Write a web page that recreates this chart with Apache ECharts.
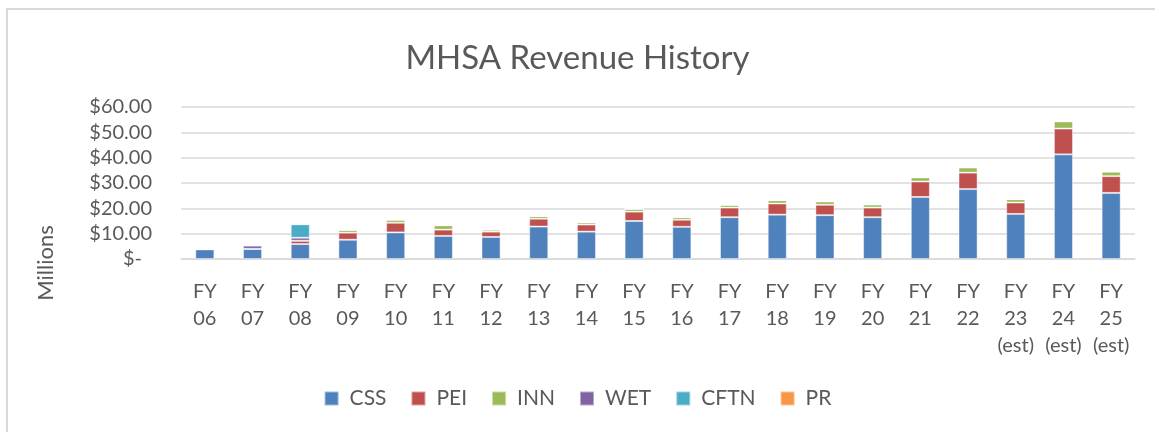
<!DOCTYPE html>
<html>
<head>
<meta charset="utf-8">
<title>MHSA Revenue History</title>
<script src="https://cdn.jsdelivr.net/npm/echarts@6/dist/echarts.min.js"></script>
<style>
    html, body { margin: 0; padding: 0; background: #fff; }
    #chart { width: 1155px; height: 432px; }
</style>
</head>
<body>
<div id="chart"></div>
<script>
// values in $ millions
var categories = ['FY\n06', 'FY\n07', 'FY\n08', 'FY\n09', 'FY\n10', 'FY\n11', 'FY\n12', 'FY\n13', 'FY\n14', 'FY\n15',
    'FY\n16', 'FY\n17', 'FY\n18', 'FY\n19', 'FY\n20', 'FY\n21', 'FY\n22', 'FY\n23\n(est)', 'FY\n24\n(est)', 'FY\n25\n(est)'];
var css  = [3.8, 4.0, 5.9, 7.6, 10.5, 9.1, 8.7, 12.8, 10.8, 15.0, 12.7, 16.5, 17.5, 17.3, 16.5, 24.5, 27.6, 17.8, 41.3, 26.1];
var pei  = [0, 0, 1.3, 2.8, 3.8, 2.5, 2.1, 3.1, 2.8, 3.7, 2.8, 3.8, 4.4, 4.1, 3.8, 6.1, 6.5, 4.5, 10.2, 6.6];
var inn  = [0, 0, 0, 1.1, 1.2, 1.7, 0.8, 1.0, 0.8, 1.1, 1.0, 1.1, 1.3, 1.3, 1.2, 1.6, 2.0, 1.3, 2.8, 1.8];
var wet  = [0, 1.3, 1.2, 0, 0, 0, 0, 0, 0, 0, 0, 0, 0, 0, 0, 0, 0, 0, 0, 0];
var cftn = [0, 0, 5.3, 0, 0, 0, 0, 0, 0, 0, 0, 0, 0, 0, 0, 0, 0, 0, 0, 0];
var pr   = [0, 0, 0, 0, 0, 0, 0, 0, 0, 0, 0, 0, 0, 0, 0, 0, 0, 0, 0, 0];
var yTicks = [0, 10, 20, 30, 40, 50, 60];

(function () {
    'use strict';

    var font = 'Lato, "Open Sans", sans-serif';
    var textColor = '#595959';
    var lineColor = '#d9d9d9';

    var seriesDefs = [
        { name: 'CSS', data: css, color: '#4f81bd' },
        { name: 'PEI', data: pei, color: '#c0504d' },
        { name: 'INN', data: inn, color: '#9bbb59' },
        { name: 'WET', data: wet, color: '#8064a2' },
        { name: 'CFTN', data: cftn, color: '#4bacc6' },
        { name: 'PR', data: pr, color: '#f79646' }
    ];

    var series = seriesDefs.map(function (s) {
        return {
            name: s.name,
            type: 'bar',
            stack: 'total',
            barWidth: '40%',
            data: s.data,
            itemStyle: {
                color: s.color,
                borderColor: 'rgba(255,255,255,0.45)',
                borderWidth: 1
            }
        };
    });

    var myChart = echarts.init(document.getElementById('chart'));
    myChart.setOption({
        animation: false,
        textStyle: { fontFamily: font, color: textColor },
        title: {
            text: 'MHSA Revenue History',
            left: 'center',
            top: 37,
            textStyle: { fontFamily: font, fontSize: 33, fontWeight: 'normal', color: textColor }
        },
        legend: {
            bottom: 18,
            left: 'center',
            itemWidth: 14,
            itemHeight: 14,
            itemGap: 24,
            icon: 'rect',
            textStyle: { fontFamily: font, fontSize: 21, color: textColor, padding: [0, 0, 0, 6] },
            data: seriesDefs.map(function (s) { return s.name; })
        },
        grid: {
            left: 181,
            right: 20,
            top: 107,
            bottom: 173,
            containLabel: false
        },
        graphic: [
            {
                type: 'rect',
                shape: { x: 7, y: 9, width: 1300, height: 600 },
                style: { fill: 'none', stroke: '#d9d9d9', lineWidth: 2 },
                silent: true
            },
            {
                type: 'text',
                x: 46,
                y: 263,
                rotation: Math.PI / 2,
                style: {
                    text: 'Millions',
                    font: '22px ' + font,
                    fill: textColor,
                    align: 'center',
                    verticalAlign: 'middle'
                }
            }
        ],
        xAxis: {
            type: 'category',
            data: categories,
            axisTick: { show: false },
            axisLine: { lineStyle: { color: lineColor, width: 1.5 } },
            axisLabel: {
                interval: 0,
                margin: 19,
                fontSize: 20,
                lineHeight: 27,
                color: textColor,
                fontFamily: font
            }
        },
        yAxis: {
            type: 'value',
            min: yTicks[0],
            max: yTicks[yTicks.length - 1],
            interval: 10,
            axisLine: { show: false },
            axisTick: { show: false },
            splitLine: { lineStyle: { color: lineColor, width: 1.5 } },
            axisLabel: {
                margin: 29,
                fontSize: 20,
                color: textColor,
                fontFamily: font,
                formatter: function (v) {
                    return v === 0 ? '{z|$-}' : '$' + v.toFixed(2);
                },
                rich: {
                    z: { fontSize: 20, color: textColor, fontFamily: font, padding: [0, 10, 0, 0] }
                }
            }
        },
        series: series
    });
})();
</script>
</body>
</html>
